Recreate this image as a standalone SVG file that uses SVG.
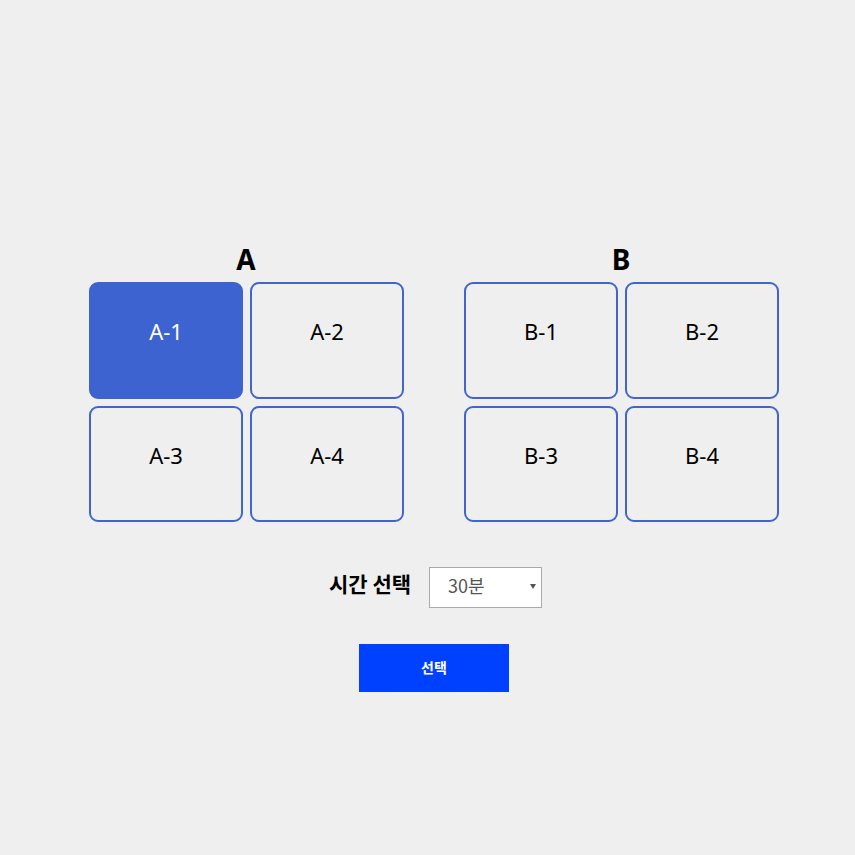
<svg xmlns="http://www.w3.org/2000/svg" width="855" height="855" viewBox="0 0 855 855">
<style>
.seat{fill:#efefef;stroke:#4066cc;stroke-width:2}
.sel{fill:#3d63d1;stroke:#3d63d1;stroke-width:2}
.lbl{font-family:"Noto Sans","Noto Sans CJK KR",sans-serif;font-size:22px;text-anchor:middle;fill:#000}
.h{font-family:"Noto Sans","Noto Sans CJK KR",sans-serif;font-size:28px;font-weight:bold;text-anchor:middle;fill:#000}
.k{font-family:"Noto Sans CJK KR","Noto Sans",sans-serif}
</style>
<rect width="855" height="855" fill="#efefef"/>
<text class="h" x="246" y="270">A</text>
<text class="h" x="621" y="270">B</text>
<g id="A-1"><rect class="sel" x="90" y="283" width="152" height="115" rx="8"/><text class="lbl" x="166" y="340" style="fill:#fff">A-1</text></g>
<g id="A-2"><rect class="seat" x="251" y="283" width="152" height="115" rx="8"/><text class="lbl" x="327" y="340">A-2</text></g>
<g id="A-3"><rect class="seat" x="90" y="407" width="152" height="114" rx="8"/><text class="lbl" x="166" y="464">A-3</text></g>
<g id="A-4"><rect class="seat" x="251" y="407" width="152" height="114" rx="8"/><text class="lbl" x="327" y="464">A-4</text></g>
<g id="B-1"><rect class="seat" x="465" y="283" width="152" height="115" rx="8"/><text class="lbl" x="541" y="340">B-1</text></g>
<g id="B-2"><rect class="seat" x="626" y="283" width="152" height="115" rx="8"/><text class="lbl" x="702" y="340">B-2</text></g>
<g id="B-3"><rect class="seat" x="465" y="407" width="152" height="114" rx="8"/><text class="lbl" x="541" y="464">B-3</text></g>
<g id="B-4"><rect class="seat" x="626" y="407" width="152" height="114" rx="8"/><text class="lbl" x="702" y="464">B-4</text></g>
<g id="time">
<text class="k" x="370" y="592" font-size="21" font-weight="bold" text-anchor="middle" fill="#000">시간 선택</text>
<rect x="429.5" y="567.5" width="112" height="40" fill="#fff" stroke="#a9a9a9" stroke-width="1"/>
<text class="k" x="448" y="593" font-size="18" fill="#555">30분</text>
<path d="M530 584 L536 584 L533 589 Z" fill="#555"/>
</g>
<g id="button">
<rect x="359" y="644" width="150" height="48" fill="#0041ff"/>
<text class="k" x="434" y="673" font-size="14" font-weight="bold" text-anchor="middle" fill="#fff">선택</text>
</g>
<g id="connectors"/>
</svg>
